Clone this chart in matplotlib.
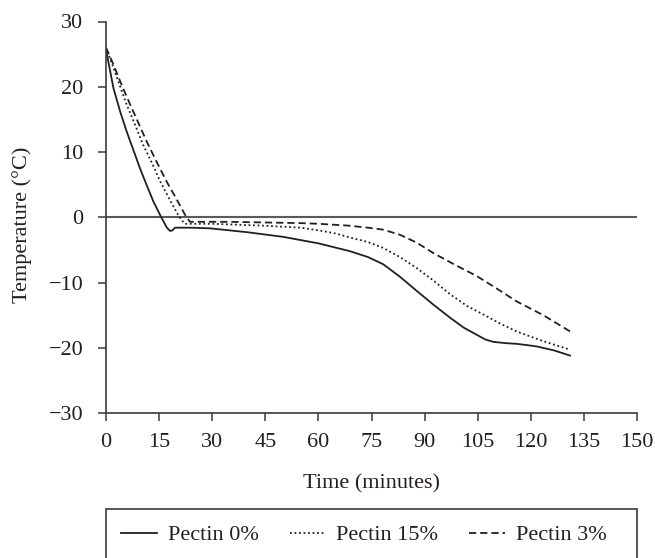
import matplotlib
matplotlib.use("Agg")
import matplotlib.pyplot as plt
from matplotlib.patches import Rectangle

# Freezing curves: time (min) vs temperature (°C)
time_0 = [0, 2.1, 4, 5.8, 8, 9.6, 11.5, 13.4, 15.7, 17.2, 18.1, 18.8, 19.5, 24, 29.4,
          40, 50, 60, 68.9, 74, 78.3, 83, 87.8, 92.5, 97.2, 101, 104.7, 107,
          109.4, 113, 116, 119, 121.7, 126.5, 131.1]
temp_0 = [25.7, 19.8, 16.2, 13.2, 9.9, 7.5, 4.9, 2.4, -0.1, -1.6, -2.1, -2.0, -1.6, -1.6, -1.7,
          -2.3, -3.0, -4.0, -5.2, -6.1, -7.2, -9.1, -11.3, -13.4, -15.4, -16.9, -18.0, -18.7,
          -19.1, -19.3, -19.4, -19.6, -19.8, -20.4, -21.2]

time_15 = [0, 1.1, 3.5, 5.8, 8.2, 10.5, 13, 15.3, 17.7, 20.0, 21.3, 22.3, 24, 30, 45, 55,
           60, 65, 68.9, 74, 78.3, 83, 87.8, 92.5, 97.2, 102, 106.6, 111, 116, 123, 131.1]
temp_15 = [26.0, 24.4, 20.8, 17.3, 14.2, 11.1, 8.3, 5.5, 3.0, 0.7, -0.4, -1.0, -1.0, -1.0, -1.3, -1.6,
           -2.0, -2.5, -3.1, -3.8, -4.7, -6.1, -7.8, -9.7, -11.8, -13.6, -14.9, -16.2, -17.5, -18.9, -20.3]

time_3 = [0, 2.1, 4.4, 6.8, 9.2, 11.5, 14.3, 17.1, 19.8, 22.3, 23.7, 26, 35, 45, 55, 60,
          68.9, 74, 78.3, 83.1, 87.8, 92.5, 98.6, 104.7, 110.3, 116, 123.5, 131.1]
temp_3 = [26.0, 23.4, 20.3, 17.3, 14.4, 11.6, 8.5, 5.5, 2.9, 0.4, -0.7, -0.7, -0.7, -0.8, -0.9, -1.0,
          -1.3, -1.6, -1.9, -2.7, -3.9, -5.5, -7.3, -9.0, -10.9, -12.9, -15.0, -17.5]

x_ticks = list(range(0, 151, 15))
y_ticks = list(range(-30, 31, 10))

LINE_COLOR = "#231f20"
AXIS_COLOR = "#3a3a3a"

plt.rcParams["font.family"] = ["Liberation Serif", "DejaVu Serif"]
plt.rcParams["font.size"] = 16
plt.rcParams["text.color"] = LINE_COLOR
plt.rcParams["axes.labelcolor"] = LINE_COLOR

fig = plt.figure(figsize=(6.55, 5.58), dpi=100)
ax = fig.add_axes([106 / 655, 1 - 413 / 558, 531 / 655, 391.5 / 558])

ax.axhline(0, color="#5a5a5a", lw=1.5, zorder=1)
ax.plot(time_0, temp_0, color=LINE_COLOR, lw=1.3, ls="-",
        solid_joinstyle="round", label="Pectin 0%")
ax.plot(time_15, temp_15, color=LINE_COLOR, lw=1.3, ls=(0, (1, 1.5)), label="Pectin 15%")
ax.plot(time_3, temp_3, color=LINE_COLOR, lw=1.3, ls=(0, (4, 2.2)), label="Pectin 3%")

ax.set_xlim(0, 150)
ax.set_ylim(-30, 30)
ax.set_xticks(x_ticks)
ax.set_yticks(y_ticks)
ax.set_yticklabels([str(v).replace("-", "\u2212") for v in y_ticks])
for s in ("top", "right"):
    ax.spines[s].set_visible(False)
for s in ("left", "bottom"):
    ax.spines[s].set_color(AXIS_COLOR)
    ax.spines[s].set_linewidth(1.2)
ax.tick_params(direction="out", length=5.8, width=1.1, color=AXIS_COLOR,
               labelcolor=LINE_COLOR)
ax.tick_params(axis="x", pad=8.5)
ax.tick_params(axis="y", pad=10.5)
ax.set_xlabel("Time (minutes)", labelpad=16)
ax.set_ylabel("Temperature (\u00b0C)")
ax.yaxis.set_label_coords(-0.14, 0.48)

# legend frame runs past the bottom edge of the figure
fig.patches.append(Rectangle((106 / 655, -0.05), 531 / 655, 0.05 + (558 - 509) / 558,
                             transform=fig.transFigure, fill=False,
                             edgecolor=AXIS_COLOR, lw=1.2, clip_on=False))
handles, labels = ax.get_legend_handles_labels()
fig.legend(handles, labels, loc="center left", ncol=3, frameon=False,
           bbox_to_anchor=(121 / 655, 1 - 535 / 558),
           borderpad=0, borderaxespad=0,
           handlelength=1.6, columnspacing=1.4, handletextpad=0.5)

fig.savefig("out.png", dpi=100)
